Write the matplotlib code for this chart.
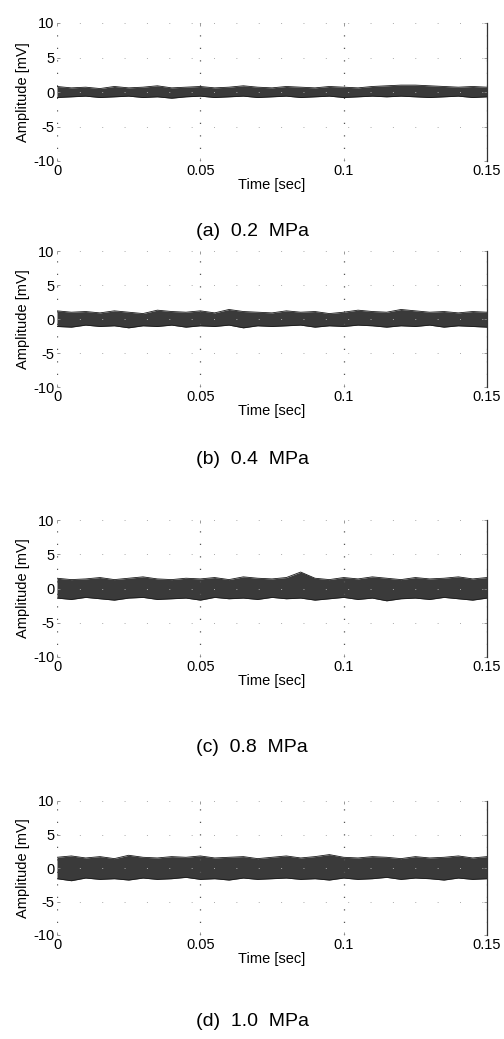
import matplotlib.pyplot as plt

plt.rcParams['font.family'] = ['Liberation Sans', 'DejaVu Sans']

# envelope of the noise band (mV)
t_env = [0.0, 0.005, 0.01, 0.015, 0.02, 0.025, 0.03, 0.035, 0.04, 0.045, 0.05,
         0.055, 0.06, 0.065, 0.07, 0.075, 0.08, 0.085, 0.09, 0.095, 0.1,
         0.105, 0.11, 0.115, 0.12, 0.125, 0.13, 0.135, 0.14, 0.145, 0.15]

a_hi = [0.8, 0.6, 0.7, 0.5, 0.8, 0.6, 0.7, 0.9, 0.6, 0.7, 0.8, 0.6, 0.7, 0.9, 0.7, 0.6,
        0.8, 0.7, 0.6, 0.8, 0.7, 0.6, 0.8, 0.9, 1.0, 1.0, 0.9, 0.8, 0.7, 0.8, 0.7]
a_lo = [-0.8, -0.7, -0.6, -0.8, -0.7, -0.6, -0.8, -0.7, -0.9, -0.7, -0.6, -0.8, -0.7, -0.6, -0.8, -0.7,
        -0.6, -0.8, -0.7, -0.6, -0.8, -0.7, -0.6, -0.7, -0.6, -0.7, -0.8, -0.7, -0.6, -0.8, -0.7]

b_hi = [1.2, 1.0, 1.1, 0.9, 1.2, 1.0, 0.8, 1.3, 1.1, 1.0, 1.2, 0.9, 1.4, 1.1, 1.0, 0.9,
        1.2, 1.0, 1.1, 0.8, 1.0, 1.3, 1.1, 1.0, 1.4, 1.2, 1.0, 1.1, 0.9, 1.1, 1.0]
b_lo = [-1.1, -1.2, -0.9, -1.1, -1.0, -1.3, -1.0, -1.1, -0.9, -1.2, -1.0, -1.1, -0.9, -1.3, -1.0, -1.1,
        -1.0, -0.9, -1.2, -1.0, -1.1, -0.9, -1.0, -1.2, -1.0, -1.1, -0.9, -1.2, -1.0, -1.1, -1.2]

c_hi = [1.5, 1.3, 1.4, 1.6, 1.3, 1.5, 1.7, 1.4, 1.3, 1.5, 1.4, 1.6, 1.3, 1.7, 1.5, 1.4,
        1.6, 2.4, 1.5, 1.3, 1.6, 1.4, 1.7, 1.5, 1.3, 1.6, 1.4, 1.5, 1.7, 1.4, 1.6]
c_lo = [-1.4, -1.6, -1.3, -1.5, -1.7, -1.4, -1.3, -1.6, -1.5, -1.4, -1.7, -1.3, -1.5, -1.4, -1.6, -1.3,
        -1.5, -1.4, -1.7, -1.5, -1.3, -1.6, -1.4, -1.8, -1.5, -1.4, -1.6, -1.3, -1.5, -1.7, -1.4]

d_hi = [1.6, 1.8, 1.5, 1.7, 1.4, 1.9, 1.6, 1.5, 1.7, 1.6, 1.8, 1.5, 1.6, 1.7, 1.4, 1.6,
        1.8, 1.5, 1.7, 2.0, 1.6, 1.5, 1.7, 1.6, 1.4, 1.7, 1.5, 1.6, 1.8, 1.5, 1.7]
d_lo = [-1.6, -1.9, -1.5, -1.7, -1.6, -1.8, -1.5, -1.7, -1.6, -1.4, -1.7, -1.6, -1.8, -1.5, -1.7, -1.6,
        -1.5, -1.7, -1.6, -1.8, -1.5, -1.7, -1.6, -1.4, -1.7, -1.5, -1.6, -1.8, -1.5, -1.7, -1.6]

captions = ['(a)  0.2  MPa', '(b)  0.4  MPa', '(c)  0.8  MPa', '(d)  1.0  MPa']
bands = [(a_hi, a_lo), (b_hi, b_lo), (c_hi, c_lo), (d_hi, d_lo)]

x_ticks = [0, 0.05, 0.1, 0.15]
x_labels = ['0', '0.05', '0.1', '0.15']
y_ticks = [-10, -5, 0, 5, 10]
y_labels = ['-10', '-5', '0', '5', '10']

W, H = 504, 1039
# pixel boxes of each panel: (top, bottom), left/right shared
rows = [(23, 161), (251, 387), (520, 657), (801, 935)]
caption_y = [231, 459, 748, 1022]
left, right = 57, 487

fig = plt.figure(figsize=(W / 100, H / 100), dpi=100)

for (top, bot), (hi, lo), cap, cy in zip(rows, bands, captions, caption_y):
    ax = fig.add_axes([left / W, 1 - bot / H, (right - left) / W, (bot - top) / H])
    ax.fill_between(t_env, lo, hi, color='#3a3a3a', linewidth=0)
    ax.plot(t_env, hi, color='#1a1a1a', lw=0.6)
    ax.plot(t_env, lo, color='#1a1a1a', lw=0.6)

    ax.set_xlim(0, 0.15)
    ax.set_ylim(-10, 10)
    ax.set_xticks(x_ticks)
    ax.set_xticklabels(x_labels)
    ax.set_yticks(y_ticks)
    ax.set_yticklabels(y_labels)
    ax.tick_params(direction='in', length=2, width=0.6, color='#888888',
                   labelsize=10.5, top=True, right=True)
    ax.tick_params(axis='x', pad=2)
    ax.tick_params(axis='y', pad=2)

    # faded matlab grid from the scan
    ax.grid(axis='x', color='#555555', linestyle=(0, (1, 9)), linewidth=0.9)
    ax.grid(axis='y', color='#aaaaaa', linestyle=(0, (1, 22)), linewidth=0.7)

    for s in ['top', 'left', 'bottom']:
        ax.spines[s].set_visible(False)
    ax.spines['right'].set_color('#333333')
    ax.spines['right'].set_linewidth(0.9)

    ax.set_xlabel('Time [sec]', fontsize=10.5, labelpad=0)
    ax.set_ylabel('Amplitude [mV]', fontsize=10.5, labelpad=2)

    fig.text(252 / W, 1 - cy / H, cap, fontsize=14, ha='center', va='center')

fig.savefig('out.png', dpi=100)
